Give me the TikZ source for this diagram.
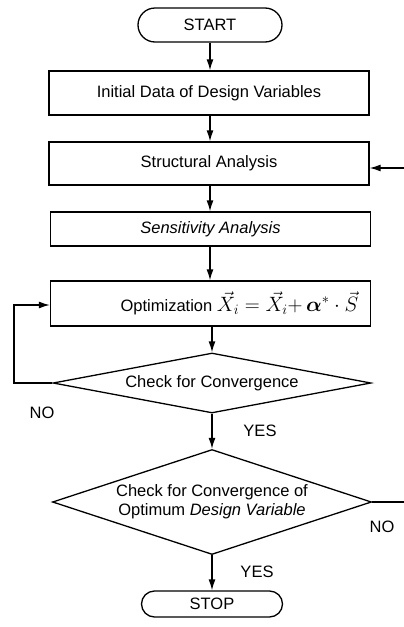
\documentclass[tikz,border=0pt]{standalone}
\usepackage{amsmath}
\usepackage{fontspec}
\setmainfont{Liberation Sans}
\usetikzlibrary{arrows.meta,shapes.geometric,shapes.misc}
\newcommand{\myfont}{\fontsize{16.5}{19}\selectfont}
\begin{document}
\begin{tikzpicture}[x=1pt,y=-1pt,
  line width=1.3pt,
  arr/.style={-{Latex[length=11pt,width=7pt]}},
  txt/.style={font=\myfont, inner sep=0pt},
  term/.style={draw, rounded rectangle, minimum width=144pt, minimum height=34pt, inner sep=0pt, font=\myfont},
  procbox/.style={draw, rectangle, minimum width=320pt, minimum height=44pt, inner sep=0pt, font=\myfont},
  lbl/.style={font=\myfont, inner sep=0pt}
]
\useasboundingbox (0,0) rectangle (404,627);
\clip (0,0) rectangle (404,627);
\node[term] (start) at (210,25) {START};
\node[procbox] (init) at (209,93) {Initial Data of Design Variables};
\node[procbox, minimum height=43pt] (struct) at (209,163.5) {Structural Analysis};
\node[procbox, minimum height=34pt] (sens) at (210.5,229) {\itshape Sensitivity Analysis};
\node[procbox, minimum height=45pt] (opt) at (210.5,303.5) {};
\node[txt, anchor=west] (opttext) at (120,303) {Optimization {\fontsize{20}{22}\selectfont$\vec{X}_{i}=\vec{X}_{i}{+}\,\boldsymbol{\alpha}^{*}\cdot\vec{S}$}};
\node[draw, diamond, aspect=5.3, minimum width=318pt, minimum height=60pt, inner sep=0pt] (chk1) at (212,383) {};
\node[txt] (chk1text) at (212,383) {Check for Convergence};
\node[draw, diamond, aspect=3.04, minimum width=319pt, minimum height=105pt, inner sep=0pt] (chk2) at (212,502) {};
\node[txt, align=center] (chk2text) at (212,502) {Check for Convergence of\\Optimum {\itshape Design Variable}};
\node[term, minimum width=141pt, minimum height=26pt] (stop) at (212,604) {STOP};
\node[lbl] (no1) at (42,413) {NO};
\node[lbl] (yes1) at (260,431) {YES};
\node[lbl] (no2) at (382,527) {NO};
\node[lbl] (yes2) at (257,572) {YES};
\coordinate (loopL) at (14,383);
\coordinate (loopR) at (420,502);
\draw[arr] (start.south -| 210,0) -- (init.north -| 210,0);
\draw[arr] (init.south -| 210,0) -- (struct.north -| 210,0);
\draw[arr] (struct.south -| 210,0) -- (sens.north -| 210,0);
\draw[arr] (sens.south -| 210,0) -- (opt.north -| 210,0);
\draw[arr] (opt.south -| 212,0) -- (chk1.north);
\draw[arr] (chk1.south) -- (chk2.north);
\draw[arr] (chk2.south) -- (stop.north);
\draw[arr] (chk1.west) -- (loopL) |- (opt.west |- 0,305);
\draw[arr] (chk2.east) -- (loopR) |- (struct.east |- 0,168);
\end{tikzpicture}
\end{document}
